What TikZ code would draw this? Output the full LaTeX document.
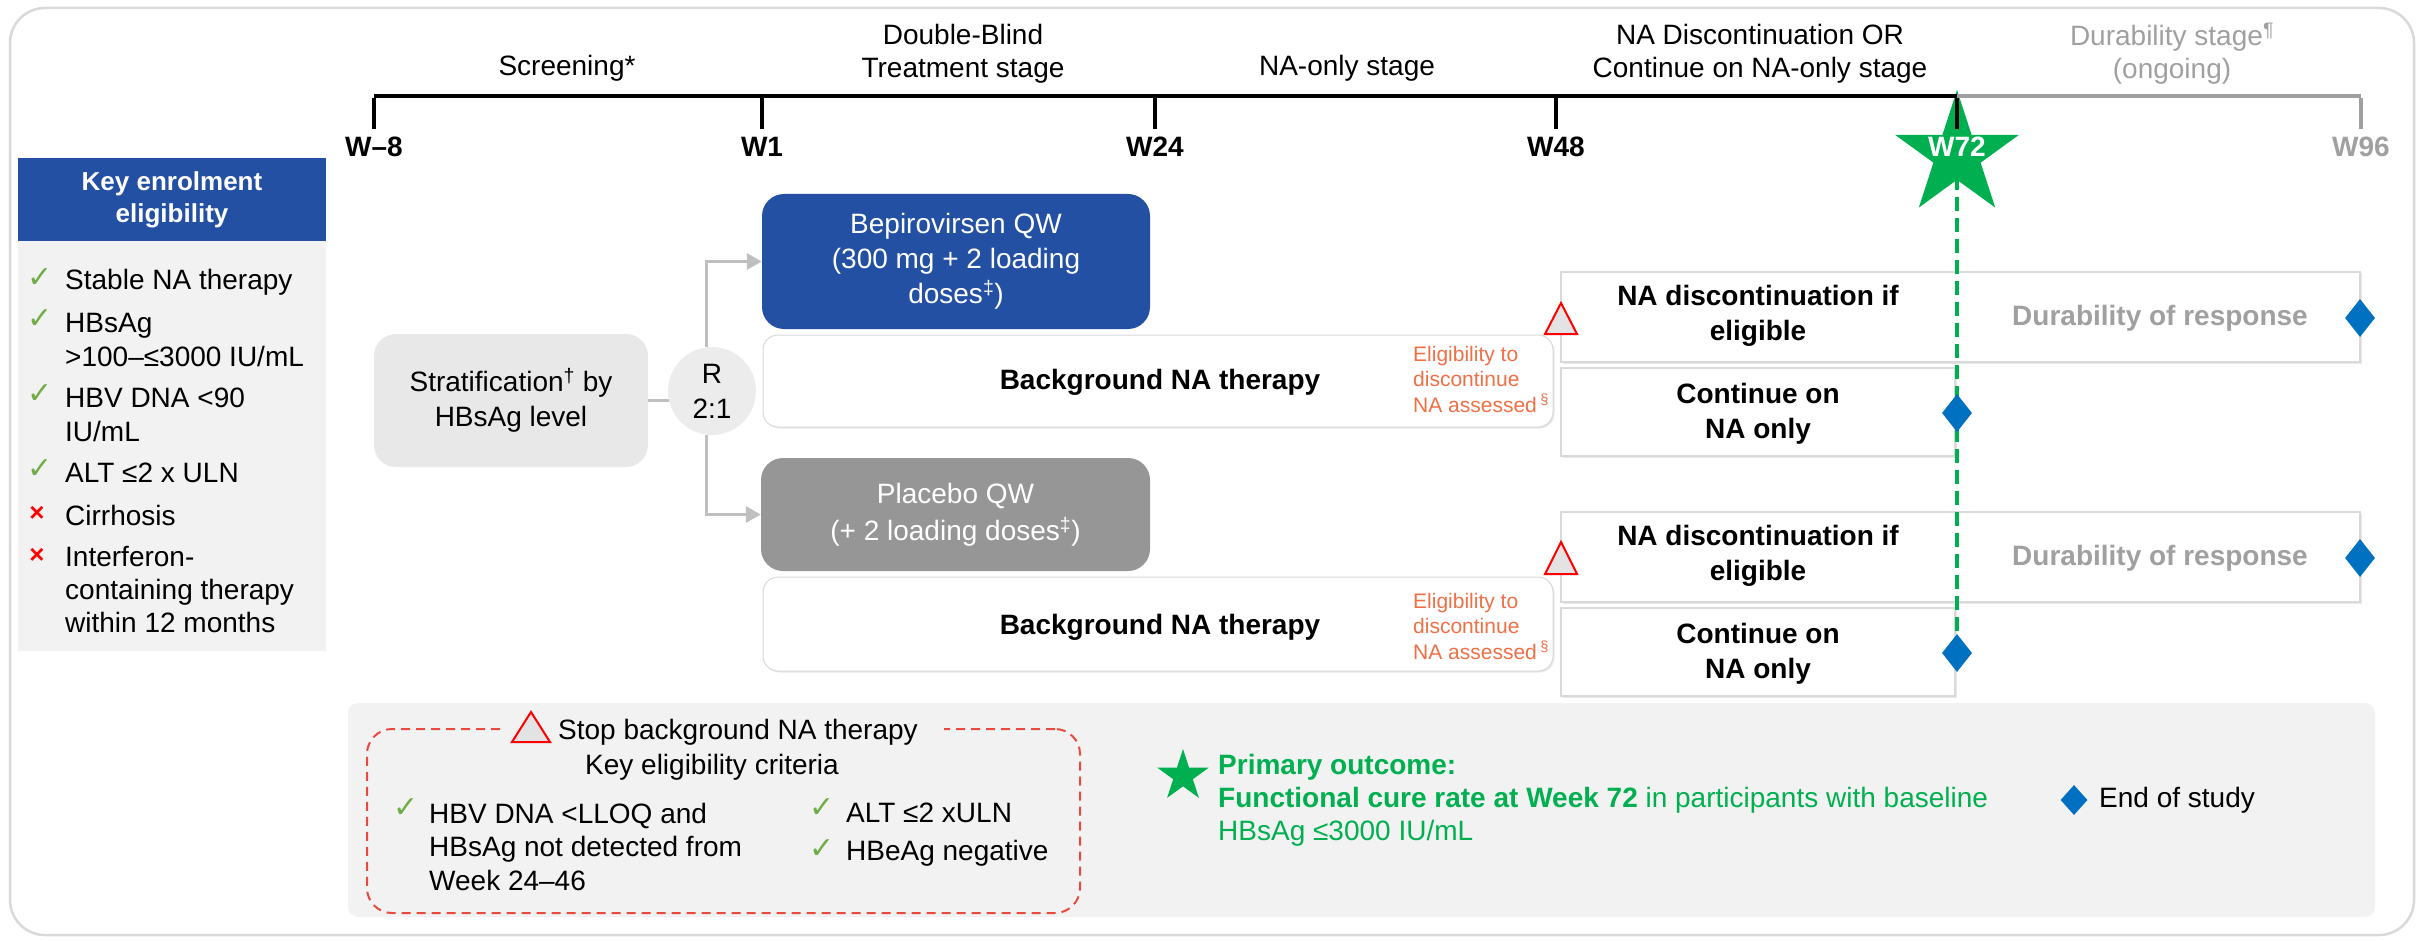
\documentclass[tikz,border=0pt]{standalone}
\usepackage{fontspec}
\setmainfont{Liberation Sans}
\newfontfamily\djv{DejaVu Sans}
\usetikzlibrary{shapes.geometric,arrows.meta,shadows}
\newcommand{\mysz}[2]{\fontsize{#1}{#2}\selectfont}
\definecolor{bluebox}{HTML}{2350A3}
\definecolor{panelgrey}{HTML}{F2F2F2}
\definecolor{stratgrey}{HTML}{E8E8E8}
\definecolor{rgrey}{HTML}{ECECEC}
\definecolor{placebogrey}{HTML}{969696}
\definecolor{conngrey}{HTML}{BFBFBF}
\definecolor{orangetxt}{HTML}{F07046}
\definecolor{greenc}{HTML}{00B050}
\definecolor{checkgreen}{HTML}{70AD47}
\definecolor{diablue}{HTML}{0070C0}
\definecolor{greytxt}{HTML}{A0A0A0}
\definecolor{boxline}{HTML}{D9D9D9}
\definecolor{redline}{HTML}{E84A3F}
\definecolor{trigrey}{HTML}{E3E3E3}
\begin{document}
\begin{tikzpicture}[x=1pt,y=-1pt,
  txt/.style={inner sep=0pt, align=center, font=\mysz{28}{35}},
  btxt/.style={inner sep=0pt, align=center, font=\mysz{28}{35}\bfseries},
  ltxt/.style={inner sep=0pt, align=left, anchor=west, font=\mysz{28}{34}},
  otxt/.style={inner sep=0pt, align=left, anchor=west, text=orangetxt, font=\mysz{21}{25.5}},
  chk/.style={inner sep=0pt, text=checkgreen, font=\djv\mysz{30}{30}},
  xmk/.style={inner sep=0pt, text=red, font=\mysz{26}{26}\bfseries},
  shad/.style={drop shadow={shadow xshift=1.5pt, shadow yshift=-1.5pt, opacity=0.3, fill=black!30}},
  bgbox/.style={fill=white, draw=boxline, line width=1pt, rounded corners=15pt, minimum width=790pt, inner sep=0pt, shad},
  wbox/.style={fill=white, draw=boxline, line width=2pt, inner sep=0pt, shad},
  dia/.style={diamond, fill=diablue, inner sep=0pt, minimum width=30pt, minimum height=38pt},
  conn/.style={draw=conngrey, line width=3pt},
  tickln/.style={line width=3.5pt},
  wlab/.style={inner sep=0pt, font=\mysz{28}{28}\bfseries},
  warn/.style={fill=trigrey, draw=red, line width=2pt, line join=miter},
  bigstar/.style={star, star points=5, star point ratio=2.618, inner sep=0pt, fill=greenc},
]
\useasboundingbox (0,0) rectangle (2422,941);
% outer frame
\draw[boxline, line width=2.5pt, rounded corners=35pt] (10,8) rectangle (2414,935);

% left panel
\node[fill=bluebox, minimum width=308pt, minimum height=83pt, inner sep=0pt, text=white, align=center, font=\mysz{26}{32}\bfseries] (lhead) at (172,199.5) {Key enrolment\\eligibility};
\node[fill=panelgrey, minimum width=308pt, minimum height=410pt, inner sep=0pt] (lbody) at (172,446) {};
\node[chk] (c1) at (40,278) {✓};
\node[ltxt] (i1) at (65,282) {Stable NA therapy};
\node[chk] (c2) at (40,319) {✓};
\node[ltxt] (i2) at (65,340) {HBsAg\\>100–≤3000 IU/mL};
\node[chk] (c3) at (40,394) {✓};
\node[ltxt] (i3) at (65,415) {HBV DNA <90\\IU/mL};
\node[chk] (c4) at (40,469) {✓};
\node[ltxt] (i4) at (65,473) {ALT ≤2 x ULN};
\node[xmk] (x5) at (37,514) {×};
\node[ltxt] (i5) at (65,515) {Cirrhosis};
\node[xmk] (x6) at (37,556) {×};
\node[ltxt, font=\mysz{28}{33}] (i6) at (65,590) {Interferon-\\containing therapy\\within 12 months};

% bottom panel
\node[fill=panelgrey, rounded corners=10pt, minimum width=2027pt, minimum height=214pt, inner sep=0pt] (bpanel) at (1361.5,810) {};
\node[draw=redline, dash pattern=on 9pt off 6pt, line width=2pt, rounded corners=25pt, minimum width=713pt, minimum height=184pt, inner sep=0pt] (crit) at (723.5,821) {};
\fill[panelgrey] (506,718) rectangle (944,742);
\draw[warn] (531,712) -- (550,742) -- (512,742) -- cycle;
\node[txt, anchor=west] (stop) at (558,732) {Stop background NA therapy};
\node[txt] (kec) at (712,767) {Key eligibility criteria};
\node[chk] (c7) at (406,808) {✓};
\node[ltxt, font=\mysz{28}{33.5}] (i7) at (429,846.5) {HBV DNA <LLOQ and\\HBsAg not detected from\\Week 24–46};
\node[chk] (c8) at (822,808) {✓};
\node[ltxt] (i8) at (846,813) {ALT ≤2 xULN};
\node[chk] (c9) at (822,849) {✓};
\node[ltxt] (i9) at (846,853) {HBeAg negative};
\node[bigstar, minimum size=54pt] (pstar) at (1183,776) {};
\node[ltxt, text=greenc, font=\mysz{28}{33}] (pout) at (1218,800.5) {\textbf{Primary outcome:}\\\textbf{Functional cure rate at Week 72} in participants with baseline\\HBsAg ≤3000 IU/mL};
\node[dia, minimum width=27pt, minimum height=30pt] (dleg) at (2074,800) {};
\node[ltxt] (eos) at (2099,800) {End of study};

% stratification and arms
\node[fill=stratgrey, rounded corners=22pt, minimum width=274pt, minimum height=133pt, txt] (strat) at (511,400.5) {Stratification\textsuperscript{†} by\\HBsAg level};
\draw[conn] (strat.east) -- ++(24,0);
\node[circle, fill=rgrey, minimum size=88pt, txt] (R) at (712,391) {R\\2:1};
\node[fill=bluebox, rounded corners=22pt, minimum width=388pt, minimum height=135pt, txt, text=white] (bepi) at (956,261.5) {Bepirovirsen QW\\(300 mg + 2 loading\\doses\textsuperscript{‡})};
\node[fill=placebogrey, rounded corners=22pt, minimum width=389pt, minimum height=113pt, txt, text=white, font=\mysz{28}{37}] (placebo) at (955.5,514.5) {Placebo QW\\(+ 2 loading doses\textsuperscript{‡})};
\draw[conn, -{Triangle[length=15pt,width=16pt]}] ([xshift=-6pt]R.north) |- (bepi.west);
\draw[conn, -{Triangle[length=15pt,width=16pt]}] ([xshift=-6pt]R.south) |- (placebo.west);

\node[bgbox, minimum height=92pt] (bg1) at (1158,381) {};
\node[btxt] (bgt1) at (1160,382) {Background NA therapy};
\node[otxt] (el1) at (1413,379) {Eligibility to\\discontinue\\NA assessed\,\textsuperscript{§}};
\node[bgbox, minimum height=94pt] (bg2) at (1158,624) {};
\node[btxt] (bgt2) at (1160,627) {Background NA therapy};
\node[otxt] (el2) at (1413,626) {Eligibility to\\discontinue\\NA assessed\,\textsuperscript{§}};

% NA discontinuation / continue boxes
\node[wbox, minimum width=799pt, minimum height=90pt] (nad1) at (1960.5,317) {};
\node[btxt] (nadt1) at (1758,316) {NA discontinuation if\\eligible};
\node[btxt, text=greytxt] (dur1) at (2160,318) {Durability of response};
\node[wbox, minimum width=394pt, minimum height=88pt] (cont1) at (1758,412) {};
\node[btxt] (contt1) at (1758,413.5) {Continue on\\NA only};
\node[wbox, minimum width=799pt, minimum height=90pt] (nad2) at (1960.5,557) {};
\node[btxt] (nadt2) at (1758,556) {NA discontinuation if\\eligible};
\node[btxt, text=greytxt] (dur2) at (2160,558) {Durability of response};
\node[wbox, minimum width=394pt, minimum height=88pt] (cont2) at (1758,652) {};
\node[btxt] (contt2) at (1758,653.5) {Continue on\\NA only};
\draw[warn] (1561,303) -- (1577,334) -- (1545,334) -- cycle;
\draw[warn] (1561,542) -- (1577,574) -- (1545,574) -- cycle;

% green dashed line and star
\coordinate (starc) at (1957,155);
\coordinate (gend) at (1957,653);
\draw[greenc, line width=4pt, dash pattern=on 14pt off 7pt] (starc) -- (gend);
\node[bigstar, minimum size=130pt] (s72) at (starc) {};

% timeline
\coordinate (tA) at (374,96);
\coordinate (tB) at (762,96);
\coordinate (tC) at (1155,96);
\coordinate (tD) at (1556,96);
\coordinate (tE) at (1957,96);
\coordinate (tF) at (2361,96);
\draw[line width=4.5pt] (tA) -- (tE);
\draw[greytxt, line width=4.5pt] (tE) -- (tF);
\foreach \t in {tA,tB,tC,tD,tE} \draw[tickln] ([yshift=-2pt]\t) -- ++(0,31);
\draw[tickln, greytxt] ([yshift=-2pt]tF) -- ++(0,31);
\node[wlab] (lA) at (374,147) {W–8};
\node[wlab] (lB) at (762,147) {W1};
\node[wlab] (lC) at (1155,147) {W24};
\node[wlab] (lD) at (1556,147) {W48};
\node[wlab, text=white] (lE) at (1957,147) {W72};
\node[wlab, text=greytxt] (lF) at (2361,147) {W96};
\node[txt] (stScr) at (567,68) {Screening*};
\node[txt, font=\mysz{28}{33}] (stDB) at (963,53.5) {Double-Blind\\Treatment stage};
\node[txt] (stNA) at (1347,68) {NA-only stage};
\node[txt, font=\mysz{28}{33}] (stDisc) at (1760,53.5) {NA Discontinuation OR\\Continue on NA-only stage};
\node[txt, text=greytxt, font=\mysz{28}{33}] (stDur) at (2172,53.5) {Durability stage\textsuperscript{¶}\\(ongoing)};

% end-of-study diamonds
\node[dia] (d1) at (2360,318) {};
\node[dia] (d2) at (1957,413) {};
\node[dia] (d3) at (2360,558) {};
\node[dia] (d4) at (gend) {};
\end{tikzpicture}
\end{document}
